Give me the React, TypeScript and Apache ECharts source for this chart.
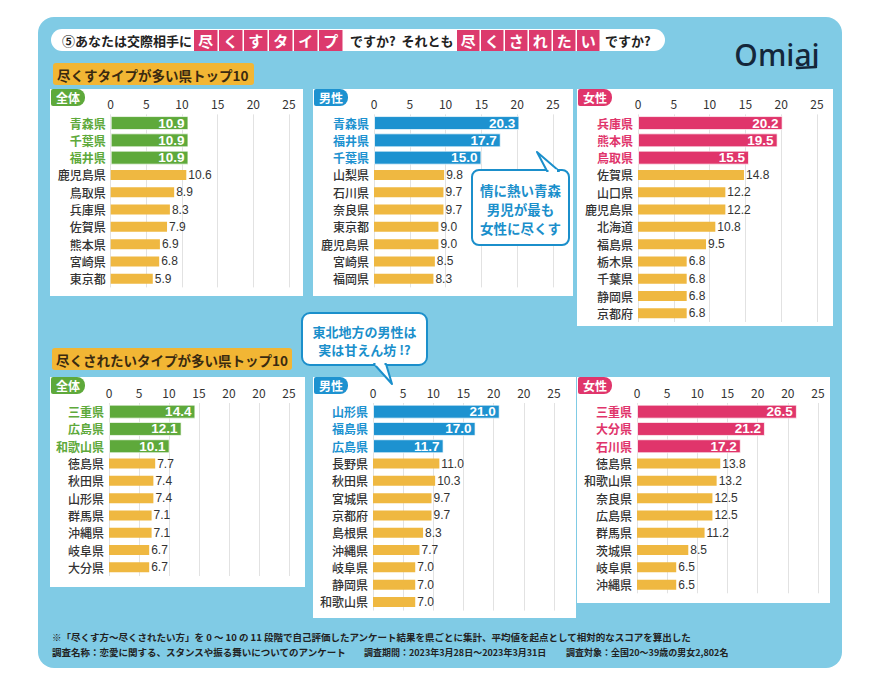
import React, { useEffect, useRef } from 'react';
import * as echarts from 'echarts';

// ---- data ----
const giveAllCats = ['青森県', '千葉県', '福井県', '鹿児島県', '鳥取県', '兵庫県', '佐賀県', '熊本県', '宮崎県', '東京都'];
const giveAllVals = [10.9, 10.9, 10.9, 10.6, 8.9, 8.3, 7.9, 6.9, 6.8, 5.9];
const giveMaleCats = ['青森県', '福井県', '千葉県', '山梨県', '石川県', '奈良県', '東京都', '鹿児島県', '宮崎県', '福岡県'];
const giveMaleVals = [20.3, 17.7, 15.0, 9.8, 9.7, 9.7, 9.0, 9.0, 8.5, 8.3];
const giveFemaleCats = ['兵庫県', '熊本県', '鳥取県', '佐賀県', '山口県', '鹿児島県', '北海道', '福島県', '栃木県', '千葉県', '静岡県', '京都府'];
const giveFemaleVals = [20.2, 19.5, 15.5, 14.8, 12.2, 12.2, 10.8, 9.5, 6.8, 6.8, 6.8, 6.8];
const wantAllCats = ['三重県', '広島県', '和歌山県', '徳島県', '秋田県', '山形県', '群馬県', '沖縄県', '岐阜県', '大分県'];
const wantAllVals = [14.4, 12.1, 10.1, 7.7, 7.4, 7.4, 7.1, 7.1, 6.7, 6.7];
const wantMaleCats = ['山形県', '福島県', '広島県', '長野県', '秋田県', '宮城県', '京都府', '島根県', '沖縄県', '岐阜県', '静岡県', '和歌山県'];
const wantMaleVals = [21.0, 17.0, 11.7, 11.0, 10.3, 9.7, 9.7, 8.3, 7.7, 7.0, 7.0, 7.0];
const wantFemaleCats = ['三重県', '大分県', '石川県', '徳島県', '和歌山県', '奈良県', '広島県', '群馬県', '茨城県', '岐阜県', '沖縄県'];
const wantFemaleVals = [26.5, 21.2, 17.2, 13.8, 13.2, 12.5, 12.5, 11.2, 8.5, 6.5, 6.5];
const topTicks = ['0', '5', '10', '15', '20', '25'];
const bottomTicks = ['0', '5', '10', '15', '20', '20', '25'];
const panelTags = ['全体', '男性', '女性', '全体', '男性', '女性'];
const highlightCount = 3;

const titleA = '⑤あなたは交際相手に';
const titleBoxA = '尽くすタイプ';
const titleB = 'ですか?  それとも';
const titleBoxB = '尽くされたい';
const titleC = 'ですか?';
const section1 = '尽くすタイプが多い県トップ10';
const section2 = '尽くされたいタイプが多い県トップ10';
const callout1 = ['情に熱い青森', '男児が最も', '女性に尽くす'];
const callout2 = ['東北地方の男性は', '実は甘えん坊 !?'];
const footer1 = '※「尽くす方〜尽くされたい方」を 0 〜 10 の 11 段階で自己評価したアンケート結果を県ごとに集計、平均値を起点として相対的なスコアを算出した';
const footer2 = ['調査名称：恋愛に関する、スタンスや振る舞いについてのアンケート', '調査期間：2023年3月28日〜2023年3月31日', '調査対象：全国20〜39歳の男女2,802名'];

// ---- style ----
const FONT = "'Noto Sans CJK JP', 'Noto Sans', sans-serif";
const CARD = '#80cbe5';
const GREEN = '#5ea93b';
const BLUE = '#1d92d0';
const PINK = '#e0356b';
const YELLOW = '#efb841';
const SECTION = '#f2b634';
const TITLE_PINK = '#dc3a6d';
const CALLOUT = '#1b8fcb';
const ROW = 17.3;

const panels = [
  { cats: giveAllCats, vals: giveAllVals, color: GREEN, ticks: topTicks },
  { cats: giveMaleCats, vals: giveMaleVals, color: BLUE, ticks: topTicks },
  { cats: giveFemaleCats, vals: giveFemaleVals, color: PINK, ticks: topTicks },
  { cats: wantAllCats, vals: wantAllVals, color: GREEN, ticks: bottomTicks },
  { cats: wantMaleCats, vals: wantMaleVals, color: BLUE, ticks: bottomTicks },
  { cats: wantFemaleCats, vals: wantFemaleVals, color: PINK, ticks: bottomTicks },
];

const gridLayout = [
  { x0: 110.7, w: 178.3, top: 114.4 },
  { x0: 374, w: 179, top: 114.4 },
  { x0: 638, w: 179, top: 114.4 },
  { x0: 109, w: 180, top: 403 },
  { x0: 373, w: 181, top: 403 },
  { x0: 637, w: 181, top: 403 },
];

const panelRects = [
  [50, 89, 253, 207],
  [313, 89, 260, 207],
  [577, 89, 256, 237],
  [50, 377, 255, 210],
  [313, 377, 263, 241],
  [577, 377, 253, 226],
];

function buildOption() {
  const grid: any[] = [];
  const xAxis: any[] = [];
  const yAxis: any[] = [];
  const series: any[] = [];
  const fmt = (p: any) => (typeof p.value === 'number' ? p.value.toFixed(1) : '');

  panels.forEach((p, i) => {
    const L = gridLayout[i];
    const h = p.cats.length * ROW;
    grid.push({ left: L.x0, top: L.top, width: L.w, height: h, containLabel: false });
    const ticks = p.ticks;
    xAxis.push({
      gridIndex: i,
      type: 'value',
      position: 'top',
      min: 0,
      max: (ticks.length - 1) * 5,
      interval: 5,
      axisLine: { show: false },
      axisTick: { show: false },
      axisLabel: {
        margin: 5,
        fontSize: 12,
        color: '#333',
        fontFamily: FONT,
        formatter: (v: number) => ticks[Math.round(v / 5)] ?? '',
      },
      splitLine: { show: true, lineStyle: { color: '#e2e2e2', width: 1 } },
    });
    yAxis.push({
      gridIndex: i,
      type: 'category',
      inverse: true,
      data: p.cats.map((c, j) => ({
        value: c,
        textStyle: j < highlightCount ? { color: p.color, fontWeight: 'bold' } : { color: '#333' },
      })),
      axisLine: { show: false },
      axisTick: { show: false },
      splitLine: { show: false },
      axisLabel: { margin: 5, fontSize: 12, color: '#333', fontWeight: 500, fontFamily: FONT },
    });
    yAxis.push({
      gridIndex: i,
      type: 'category',
      inverse: true,
      show: false,
      data: p.cats,
    });
    series.push({
      type: 'bar',
      xAxisIndex: i,
      yAxisIndex: i * 2,
      barWidth: 14,
      data: p.vals.map((v, j) => (j < highlightCount ? v : '-')),
      itemStyle: { color: p.color, borderColor: 'rgba(255,255,255,0.7)', borderWidth: 1 },
      label: {
        show: true,
        position: 'insideRight',
        distance: 4,
        color: '#fff',
        fontWeight: 'bold',
        fontSize: 13.5,
        fontFamily: 'Liberation Sans, Arial, sans-serif',
        formatter: fmt,
      },
      silent: true,
    });
    series.push({
      type: 'bar',
      xAxisIndex: i,
      yAxisIndex: i * 2 + 1,
      barWidth: 10,
      data: p.vals.map((v, j) => (j >= highlightCount ? v : '-')),
      itemStyle: { color: YELLOW },
      label: {
        show: true,
        position: 'right',
        distance: 2,
        color: '#333',
        fontSize: 12,
        fontFamily: 'Liberation Sans, Arial, sans-serif',
        formatter: fmt,
      },
      silent: true,
    });
  });

  const g: any[] = [];
  // card
  g.push({ type: 'rect', z: -20, shape: { x: 38, y: 17, width: 804, height: 651, r: 16 }, style: { fill: CARD } });
  // title pill
  g.push({ type: 'rect', z: -10, shape: { x: 51, y: 29, width: 614, height: 22, r: 11 }, style: { fill: '#fff' } });
  const titleText = (x: number, text: string) => ({
    type: 'text', z: 5, x, y: 40.5,
    style: { text, fontSize: 13, fontWeight: 'bold', fill: '#222', fontFamily: FONT, verticalAlign: 'middle' },
  });
  g.push(titleText(62, titleA));
  titleBoxA.split('').forEach((ch, k) => {
    const bx = 194 + k * 25;
    g.push({ type: 'rect', z: 4, shape: { x: bx, y: 30, width: 23.5, height: 21 }, style: { fill: TITLE_PINK } });
    g.push({ type: 'text', z: 5, x: bx + 11.75, y: 40.5, style: { text: ch, fontSize: 15, fontWeight: 'bold', fill: '#fff', fontFamily: FONT, align: 'center', verticalAlign: 'middle' } });
  });
  g.push(titleText(350, titleB));
  titleBoxB.split('').forEach((ch, k) => {
    const bx = 457 + k * 24;
    g.push({ type: 'rect', z: 4, shape: { x: bx, y: 30, width: 22.5, height: 21 }, style: { fill: TITLE_PINK } });
    g.push({ type: 'text', z: 5, x: bx + 11.25, y: 40.5, style: { text: ch, fontSize: 15, fontWeight: 'bold', fill: '#fff', fontFamily: FONT, align: 'center', verticalAlign: 'middle' } });
  });
  g.push(titleText(605, titleC));
  // logo
  g.push({ type: 'text', z: 5, x: 777, y: 54, style: { text: 'Omiai', fontSize: 30, fontWeight: 500, fill: '#14263a', fontFamily: "'Noto Sans', sans-serif", align: 'center', verticalAlign: 'middle' } });
  g.push({ type: 'line', z: 5, shape: { x1: 797, y1: 68, x2: 816, y2: 67 }, style: { stroke: '#14263a', lineWidth: 2.5, lineCap: 'round' } });
  // section labels
  g.push({ type: 'rect', z: -10, shape: { x: 53, y: 63, width: 201, height: 22, r: 3 }, style: { fill: SECTION } });
  g.push({ type: 'text', z: 5, x: 57, y: 74.5, style: { text: section1, fontSize: 13.5, fontWeight: 'bold', fill: '#3a2a10', fontFamily: FONT, verticalAlign: 'middle' } });
  g.push({ type: 'rect', z: -10, shape: { x: 52, y: 348, width: 240, height: 22, r: 3 }, style: { fill: SECTION } });
  g.push({ type: 'text', z: 5, x: 56, y: 359.5, style: { text: section2, fontSize: 13.5, fontWeight: 'bold', fill: '#3a2a10', fontFamily: FONT, verticalAlign: 'middle' } });
  // panels
  panelRects.forEach((r, i) => {
    g.push({ type: 'rect', z: -10, shape: { x: r[0], y: r[1], width: r[2], height: r[3] }, style: { fill: '#fff' } });
    g.push({ type: 'rect', z: -5, shape: { x: r[0] + 1, y: r[1], width: 34, height: 17, r: [2, 8, 8, 2] }, style: { fill: panels[i].color } });
    g.push({ type: 'text', z: 5, x: r[0] + 18, y: r[1] + 8.5, style: { text: panelTags[i], fontSize: 12, fontWeight: 'bold', fill: '#fff', fontFamily: FONT, align: 'center', verticalAlign: 'middle' } });
  });
  // callout 1
  g.push({ type: 'rect', z: 50, shape: { x: 472, y: 170, width: 97, height: 75, r: 7 }, style: { fill: '#fff', stroke: CALLOUT, lineWidth: 2 } });
  g.push({ type: 'polygon', z: 51, shape: { points: [[547, 171], [537, 152], [559, 171]] }, style: { fill: '#fff', stroke: CALLOUT, lineWidth: 2, lineJoin: 'round' } });
  g.push({ type: 'line', z: 52, shape: { x1: 548.5, y1: 171, x2: 557, y2: 171 }, style: { stroke: '#fff', lineWidth: 3 } });
  callout1.forEach((t, k) => {
    g.push({ type: 'text', z: 53, x: 520.5, y: 190 + k * 19, style: { text: t, fontSize: 13.5, fontWeight: 'bold', fill: CALLOUT, fontFamily: FONT, align: 'center', verticalAlign: 'middle' } });
  });
  // callout 2
  g.push({ type: 'rect', z: 50, shape: { x: 302, y: 313, width: 125, height: 52, r: 8 }, style: { fill: '#fff', stroke: CALLOUT, lineWidth: 2 } });
  g.push({ type: 'polygon', z: 51, shape: { points: [[374, 364], [392, 384], [386, 364]] }, style: { fill: '#fff', stroke: CALLOUT, lineWidth: 2, lineJoin: 'round' } });
  g.push({ type: 'line', z: 52, shape: { x1: 375.5, y1: 364, x2: 384.5, y2: 364 }, style: { stroke: '#fff', lineWidth: 3 } });
  callout2.forEach((t, k) => {
    g.push({ type: 'text', z: 53, x: 364.5, y: 331 + k * 18.5, style: { text: t, fontSize: 13, fontWeight: 'bold', fill: CALLOUT, fontFamily: FONT, align: 'center', verticalAlign: 'middle' } });
  });
  // footer
  g.push({ type: 'text', z: 5, x: 52, y: 637, style: { text: footer1, fontSize: 9.5, fontWeight: 'bold', fill: '#222', fontFamily: FONT, verticalAlign: 'middle' } });
  const fx = [52, 364, 566];
  const fs = [9.5, 9, 9];
  footer2.forEach((t, k) => {
    g.push({ type: 'text', z: 5, x: fx[k], y: 652, style: { text: t, fontSize: fs[k], fontWeight: 'bold', fill: '#222', fontFamily: FONT, verticalAlign: 'middle' } });
  });

  return {
    animation: false,
    backgroundColor: '#ffffff',
    textStyle: { fontFamily: FONT },
    grid,
    xAxis,
    yAxis,
    series,
    graphic: { elements: g },
  };
}

export default function App() {
  const ref = useRef<HTMLDivElement>(null);
  useEffect(() => {
    document.body.style.margin = '0';
    if (!ref.current) return;
    const chart = echarts.init(ref.current, undefined, { renderer: 'svg' });
    chart.setOption(buildOption() as any);
    return () => chart.dispose();
  }, []);
  return <div ref={ref} style={{ width: 879, height: 686 }} />;
}
